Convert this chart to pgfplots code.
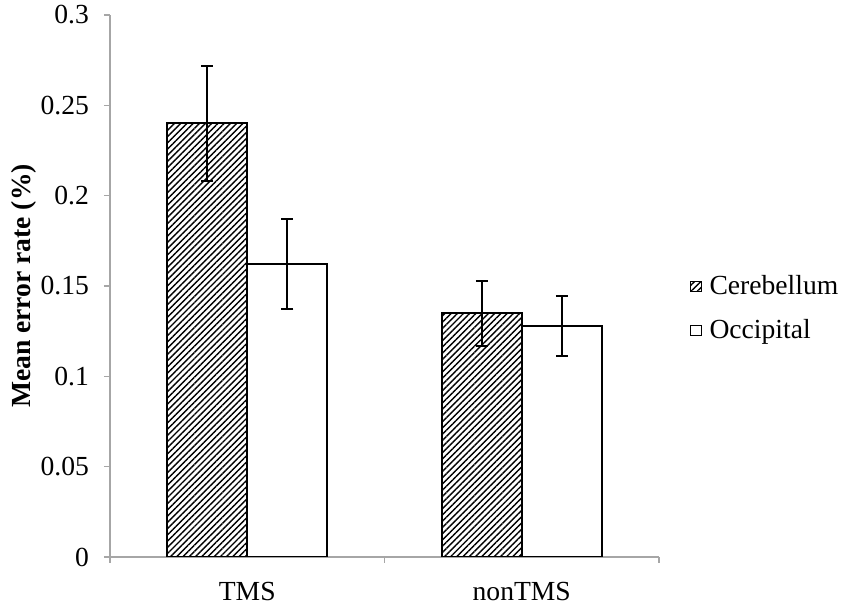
\documentclass[border=0pt]{standalone}
\usepackage{fontspec}
\setmainfont{Liberation Serif}
\usepackage{pgfplots}
\pgfplotsset{compat=1.18}
\usetikzlibrary{patterns.meta}

\pgfplotsset{
  sq legend/.style={legend image code/.code={
      \draw[##1, line width=0.5pt] (0pt,-2.6pt) rectangle (5.2pt,2.6pt);}},
}

\begin{document}
\begin{tikzpicture}
\begin{axis}[
    scale only axis, width=274.5pt, height=271pt,
    font=\fontsize{13.8}{16}\selectfont,
    /pgf/number format/assume math mode=true,
    ybar=0pt, bar width=40pt,
    xmin=-0.5, xmax=1.5, ymin=0, ymax=0.3,
    ytick={0,0.05,0.1,0.15,0.2,0.25,0.3},
    yticklabels={0,0.05,0.1,0.15,0.2,0.25,0.3},
    xtick={-0.5,0.5,1.5}, xticklabels={},
    extra x ticks={0,1}, extra x tick labels={TMS,nonTMS},
    extra x tick style={major tick length=0pt},
    axis x line*=bottom, axis y line*=left,
    axis line style={draw=gray!70, line width=0.7pt},
    tick style={draw=gray!70, line width=0.7pt},
    tick align=outside, major tick length=3pt,
    xticklabel style={yshift=-9pt},
    yticklabel style={xshift=-4pt},
    ylabel={\textbf{Mean error rate (\%)}},
    ylabel style={at={(axis description cs:-0.157,0.5)}, anchor=center},
    legend style={at={(axis description cs:1.056,0.528)}, anchor=north west,
      draw=none, fill=none, inner sep=0pt, row sep=7pt,
      nodes={inner xsep=4pt},
      font=\fontsize{13.8}{16}\selectfont},
    legend cell align=left,
    error bars/error bar style={black, line width=1pt},
    error bars/error mark options={rotate=90, mark size=3pt, line width=1pt, black},
  ]

  % Cerebellum (hatched)
  \addplot[draw=black, line width=0.9pt,
      pattern={Lines[angle=45, distance=2.2pt, line width=0.7pt]}, pattern color=black,
      sq legend,
      error bars/.cd, y dir=both, y explicit]
    coordinates {
      (0,0.240) +- (0,0.032)
      (1,0.135) +- (0,0.018)
    };
  \addlegendentry{Cerebellum}

  % Occipital (white)
  \addplot[draw=black, line width=0.9pt, fill=white,
      sq legend,
      error bars/.cd, y dir=both, y explicit]
    coordinates {
      (0,0.162) +- (0,0.025)
      (1,0.128) +- (0,0.0165)
    };
  \addlegendentry{Occipital}

\end{axis}
\pgfresetboundingbox
\useasboundingbox (-55pt,-26pt) rectangle (370pt,278.5pt);
\end{tikzpicture}
\end{document}
